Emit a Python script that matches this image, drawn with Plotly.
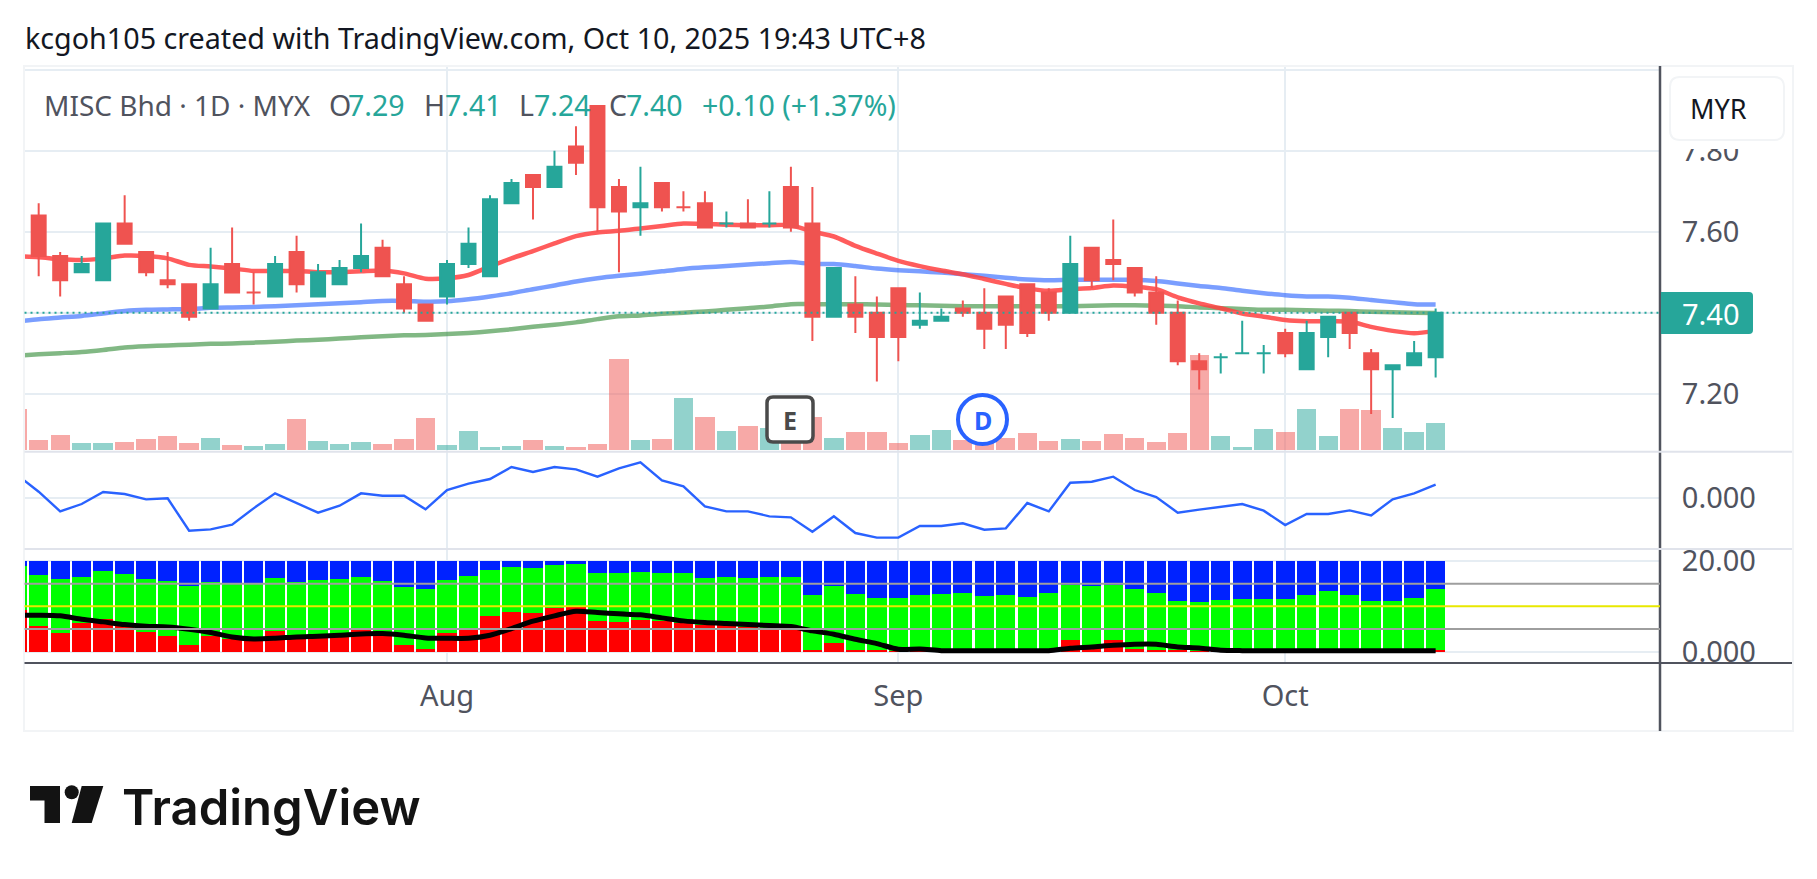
import plotly.graph_objects as go

W, H = 1817, 879
FONT = "Noto Sans"

# candle index 1..66, index 0 only has volume / line values (cut off by the left edge)
opens = [7.64,7.54,7.50,7.48,7.62,7.55,7.48,7.47,7.41,7.52,7.45,7.44,7.55,7.44,7.47,7.51,7.56,7.47,7.42,7.44,7.52,7.49,7.67,7.74,7.71,7.81,7.91,7.71,7.66,7.72,7.66,7.67,7.62,7.62,7.62,7.71,7.62,7.39,7.42,7.40,7.46,7.37,7.38,7.41,7.40,7.44,7.47,7.45,7.40,7.56,7.53,7.51,7.45,7.40,7.28,7.29,7.30,7.30,7.35,7.26,7.34,7.40,7.30,7.26,7.27,7.29]
highs = [7.67,7.55,7.54,7.62,7.69,7.55,7.55,7.47,7.56,7.61,7.50,7.54,7.59,7.52,7.53,7.62,7.58,7.49,7.42,7.53,7.61,7.69,7.73,7.74,7.80,7.86,7.91,7.73,7.76,7.72,7.70,7.70,7.65,7.68,7.70,7.76,7.71,7.51,7.49,7.44,7.46,7.45,7.41,7.43,7.46,7.44,7.47,7.46,7.59,7.56,7.63,7.51,7.49,7.43,7.30,7.30,7.38,7.32,7.36,7.38,7.39,7.40,7.31,7.27,7.33,7.41]
lows = [7.49,7.44,7.50,7.48,7.57,7.49,7.46,7.38,7.41,7.45,7.42,7.44,7.45,7.44,7.47,7.50,7.49,7.40,7.38,7.42,7.51,7.49,7.67,7.63,7.71,7.74,7.60,7.50,7.59,7.65,7.65,7.61,7.61,7.61,7.61,7.60,7.33,7.39,7.35,7.23,7.28,7.36,7.38,7.39,7.31,7.31,7.34,7.38,7.40,7.46,7.48,7.44,7.37,7.27,7.21,7.25,7.30,7.25,7.29,7.26,7.29,7.31,7.15,7.14,7.27,7.24]
closes = [7.54,7.48,7.52,7.62,7.57,7.50,7.47,7.39,7.47,7.45,7.45,7.52,7.47,7.50,7.51,7.54,7.49,7.41,7.38,7.52,7.57,7.68,7.72,7.71,7.76,7.77,7.66,7.65,7.67,7.66,7.66,7.61,7.62,7.61,7.62,7.61,7.39,7.51,7.39,7.34,7.34,7.38,7.39,7.40,7.36,7.37,7.35,7.40,7.52,7.48,7.52,7.45,7.40,7.28,7.26,7.29,7.30,7.30,7.30,7.35,7.39,7.35,7.26,7.27,7.30,7.40]

volume = [123,30,45,21,21,24,33,42,21,36,15,12,18,93,27,18,24,18,33,96,15,57,9,12,30,12,9,18,273,30,33,156,99,57,72,66,33,99,36,54,54,21,45,60,30,24,36,51,27,33,27,48,36,24,51,285,42,9,63,54,123,42,123,120,66,54,81]

ema_red = [7.539,7.537,7.532,7.530,7.534,7.541,7.540,7.534,7.518,7.514,7.509,7.503,7.503,7.503,7.500,7.500,7.502,7.504,7.497,7.484,7.485,7.493,7.514,7.534,7.552,7.571,7.589,7.598,7.602,7.608,7.614,7.620,7.619,7.617,7.616,7.616,7.616,7.600,7.588,7.565,7.546,7.528,7.515,7.504,7.495,7.483,7.471,7.460,7.454,7.458,7.461,7.467,7.464,7.458,7.438,7.423,7.411,7.398,7.390,7.382,7.379,7.379,7.378,7.365,7.355,7.349,7.355]
ema_blue = [7.378,7.384,7.388,7.392,7.398,7.404,7.407,7.408,7.409,7.412,7.413,7.414,7.416,7.418,7.421,7.423,7.426,7.429,7.429,7.427,7.428,7.433,7.440,7.448,7.458,7.467,7.477,7.485,7.491,7.496,7.502,7.508,7.512,7.515,7.519,7.522,7.525,7.520,7.520,7.515,7.509,7.505,7.502,7.499,7.495,7.491,7.486,7.482,7.480,7.481,7.481,7.481,7.481,7.478,7.472,7.466,7.461,7.454,7.448,7.443,7.440,7.440,7.437,7.431,7.426,7.421,7.420]
ema_green = [7.294,7.297,7.300,7.303,7.308,7.314,7.317,7.319,7.321,7.323,7.324,7.326,7.328,7.331,7.333,7.336,7.339,7.342,7.344,7.345,7.347,7.350,7.354,7.359,7.365,7.370,7.376,7.384,7.391,7.393,7.397,7.400,7.403,7.407,7.411,7.415,7.421,7.421,7.421,7.421,7.420,7.419,7.418,7.417,7.416,7.416,7.416,7.416,7.416,7.416,7.417,7.418,7.418,7.417,7.416,7.413,7.411,7.409,7.407,7.407,7.406,7.405,7.404,7.402,7.401,7.400,7.399]

oscillator = [0.069,0.019,-0.040,-0.018,0.018,0.012,-0.004,-0.001,-0.098,-0.094,-0.080,-0.031,0.014,-0.016,-0.044,-0.023,0.014,0.007,0.007,-0.034,0.024,0.043,0.057,0.093,0.078,0.093,0.086,0.064,0.089,0.107,0.053,0.035,-0.025,-0.040,-0.040,-0.055,-0.058,-0.101,-0.055,-0.105,-0.119,-0.119,-0.084,-0.084,-0.076,-0.095,-0.091,-0.015,-0.040,0.046,0.049,0.064,0.024,0.003,-0.044,-0.035,-0.027,-0.018,-0.038,-0.081,-0.048,-0.048,-0.037,-0.052,-0.004,0.014,0.040]

red_band = [9.15,5.60,4.06,6.35,7.16,5.83,4.28,3.47,1.40,3.47,2.88,2.51,4.50,3.62,3.62,3.99,4.72,4.28,1.40,0.52,4.06,4.94,7.90,8.78,8.49,9.67,9.82,6.72,6.49,6.94,6.72,6.35,5.83,5.83,5.46,5.09,5.09,0.30,1.85,0.30,0.30,0.15,0.15,0.07,0.07,0.07,0.07,0.07,0.15,2.51,1.40,2.51,0.52,0.30,0.30,0.15,0.07,0.07,0.07,0.07,0.07,0.07,0.07,0.07,0.07,0.07,0.30]
green_top = [18.89,16.90,16.01,16.46,17.79,17.12,16.01,15.57,14.46,15.35,14.91,14.91,16.24,15.35,15.79,16.01,16.46,15.57,14.24,13.80,15.79,16.68,18.01,18.67,18.45,19.11,19.34,17.34,17.34,17.56,17.34,17.34,16.24,16.46,16.24,16.46,16.46,12.47,14.46,12.69,11.81,11.81,12.47,12.69,12.92,12.25,12.47,12.03,12.92,14.69,14.46,14.69,13.80,12.92,11.14,10.92,11.37,11.59,11.59,11.59,12.47,13.36,12.47,11.14,11.14,11.81,13.80]
black_line = [8.04,8.04,7.90,7.16,6.57,5.98,5.61,5.46,4.94,4.21,3.25,2.80,2.95,3.25,3.40,3.62,3.91,3.99,3.62,3.03,2.95,2.95,3.62,5.09,6.72,7.90,8.93,8.63,8.34,8.12,7.45,6.79,6.42,6.20,5.98,5.76,5.54,4.58,3.84,2.73,1.77,0.52,0.59,0.22,0.22,0.22,0.22,0.22,0.22,0.74,1.03,1.40,1.62,1.62,1.03,0.81,0.30,0.22,0.22,0.22,0.22,0.22,0.22,0.22,0.22,0.22,0.22]

month_pos = [20, 41, 59]
month_labels = ["Aug", "Sep", "Oct"]

bars = list(range(67))
candles = bars[1:]

UP, DOWN = "#26a69a", "#ef5350"
GRID = "#e6edf3"
TEXT = "#50535e"


def px(x):
    return x / W


def py(y):
    return 1 - y / H


vol_colors = ["rgba(239,83,80,0.5)"] + [
    "rgba(38,166,154,0.5)" if c >= o else "rgba(239,83,80,0.5)" for o, c in zip(opens, closes)
]

fig = go.Figure()
fig.add_bar(x=bars, y=volume, marker_color=vol_colors, marker_line_width=0, yaxis="y", hoverinfo="skip")
for vals, col in [(ema_green, "rgba(56,142,60,0.63)"), (ema_blue, "rgba(41,98,255,0.62)"), (ema_red, "rgba(255,64,64,0.85)")]:
    fig.add_scatter(x=bars, y=vals, mode="lines", line=dict(color=col, width=4.5, shape="spline", smoothing=0.7),
                    yaxis="y2", hoverinfo="skip")
fig.add_candlestick(
    x=candles, open=opens, high=highs, low=lows, close=closes, yaxis="y3", whiskerwidth=0,
    increasing=dict(line=dict(color=UP, width=2), fillcolor=UP),
    decreasing=dict(line=dict(color=DOWN, width=2), fillcolor=DOWN),
    hoverinfo="skip",
)
fig.add_scatter(x=bars, y=oscillator, mode="lines", line=dict(color="#2962ff", width=2.4), yaxis="y4", hoverinfo="skip")
fig.add_bar(x=bars, y=red_band, marker_color="#ff0000", marker_line_width=0, yaxis="y5", hoverinfo="skip")
fig.add_bar(x=bars, y=[g - r for g, r in zip(green_top, red_band)], marker_color="#00ff00", marker_line_width=0, yaxis="y5", hoverinfo="skip")
fig.add_bar(x=bars, y=[20 - g for g in green_top], marker_color="#0022ff", marker_line_width=0, yaxis="y5", hoverinfo="skip")
fig.add_scatter(x=bars, y=black_line, mode="lines", line=dict(color="black", width=5, shape="spline", smoothing=0.7),
                yaxis="y5", hoverinfo="skip")

tick_font = dict(family=FONT, size=29, color=TEXT)
price_domain = [py(451.7), py(66)]
hidden = dict(visible=False, anchor="x", showgrid=False, zeroline=False)

fig.update_layout(
    width=W, height=H, margin=dict(l=0, r=0, t=0, b=0, autoexpand=False), autosize=False,
    paper_bgcolor="white", plot_bgcolor="white", showlegend=False,
    barmode="stack", bargap=0.1, boxgap=0.35, boxgroupgap=0,
    xaxis=dict(
        domain=[px(24.5), px(1660)], range=[0.34, 76.44], anchor="y5", rangeslider=dict(visible=False),
        tickvals=month_pos, ticktext=month_labels, tickfont=tick_font,
        showgrid=True, gridcolor=GRID, gridwidth=2, zeroline=False, showline=False,
        ticks="outside", ticklen=7, tickcolor="rgba(0,0,0,0)",
    ),
    yaxis=dict(domain=price_domain, range=[-5, 1152], **hidden),
    yaxis2=dict(range=[7.0567, 8.009], overlaying="y", **hidden),
    yaxis3=dict(
        range=[7.0567, 8.009], overlaying="y", anchor="x", side="right",
        tickvals=[7.2, 7.4, 7.6, 7.8, 8.0], ticktext=["7.20", "", "7.60", "7.80", ""],
        tickfont=tick_font, showgrid=True, gridcolor=GRID, gridwidth=2, zeroline=False,
        ticks="outside", ticklen=15, tickcolor="rgba(0,0,0,0)",
    ),
    yaxis4=dict(
        domain=[py(549), py(451.7)], range=[-0.153, 0.139], anchor="x", side="right",
        tickvals=[0], ticktext=["0.000"], tickfont=tick_font,
        showgrid=True, gridcolor=GRID, gridwidth=2, zeroline=False,
        ticks="outside", ticklen=15, tickcolor="rgba(0,0,0,0)",
    ),
    yaxis5=dict(
        domain=[py(663), py(549)], range=[-2.51, 22.66], anchor="x", side="right",
        tickvals=[0, 20], ticktext=["0.000", "20.00"], tickfont=tick_font,
        showgrid=True, gridcolor=GRID, gridwidth=2, zeroline=False,
        ticks="outside", ticklen=15, tickcolor="rgba(0,0,0,0)",
    ),
)


def hline(x0, x1, y, color, width):
    return dict(type="line", xref="paper", yref="paper", x0=px(x0), x1=px(x1), y0=py(y), y1=py(y),
                line=dict(color=color, width=width), layer="above")


def vline(x, y0, y1, color, width):
    return dict(type="line", xref="paper", yref="paper", x0=px(x), x1=px(x), y0=py(y0), y1=py(y1),
                line=dict(color=color, width=width), layer="above")


def level(y, color):
    return dict(type="line", xref="paper", yref="y5", x0=px(24.5), x1=px(1660), y0=y, y1=y,
                line=dict(color=color, width=2), layer="above")


def rounded(x0, y0, x1, y1, r):
    return (f"M{px(x0+r)},{py(y0)} L{px(x1-r)},{py(y0)} Q{px(x1)},{py(y0)} {px(x1)},{py(y0+r)} "
            f"L{px(x1)},{py(y1-r)} Q{px(x1)},{py(y1)} {px(x1-r)},{py(y1)} L{px(x0+r)},{py(y1)} "
            f"Q{px(x0)},{py(y1)} {px(x0)},{py(y1-r)} L{px(x0)},{py(y0+r)} Q{px(x0)},{py(y0)} {px(x0+r)},{py(y0)} Z")


def poly(points):
    return "M" + " L".join(f"{px(a)},{py(b)}" for a, b in points) + " Z"


shapes = [
    # frame and separators
    dict(type="rect", xref="paper", yref="paper", x0=px(24), x1=px(1793), y0=py(731), y1=py(66),
         line=dict(color="#f2f4f6", width=2), layer="above"),
    vline(1660, 66, 731, TEXT, 2.5),
    hline(24.5, 1792, 663, TEXT, 2),
    hline(24.5, 1792, 451.7, "#e0e3eb", 2),
    hline(24.5, 1792, 549, "#e0e3eb", 2),
    # indicator levels
    level(15, "#9e9e9e"), level(10, "#e8e800"), level(5, "#9e9e9e"),
    # last price line
    dict(type="line", xref="paper", yref="y3", x0=px(24.5), x1=px(1660), y0=closes[-1], y1=closes[-1],
         line=dict(color=UP, width=2, dash="2px,4px"), layer="above"),
    # last price label
    dict(type="path", xref="paper", yref="paper", layer="above", fillcolor=UP, line=dict(width=0),
         path=f"M{px(1661)},{py(292)} L{px(1749)},{py(292)} Q{px(1753)},{py(292)} {px(1753)},{py(296)} "
              f"L{px(1753)},{py(330)} Q{px(1753)},{py(334)} {px(1749)},{py(334)} L{px(1661)},{py(334)} Z"),
    # mask over the 7.80 label and currency button
    dict(type="rect", xref="paper", yref="paper", x0=px(1663), x1=px(1791), y0=py(149), y1=py(68),
         fillcolor="white", line=dict(width=0), layer="above"),
    dict(type="path", xref="paper", yref="paper", layer="above", fillcolor="white",
         line=dict(color="#f2f4f6", width=2), path=rounded(1670, 77, 1784, 140, 10)),
    # earnings and dividend markers
    dict(type="path", xref="paper", yref="paper", layer="above", fillcolor="white",
         line=dict(color="#4a4a4a", width=3.5), path=rounded(767, 397, 813, 442, 6)),
    dict(type="circle", xref="paper", yref="paper", layer="above", fillcolor="white",
         line=dict(color="#2962ff", width=4), x0=px(958), x1=px(1007), y0=py(444), y1=py(395)),
    # logo
    dict(type="path", xref="paper", yref="paper", layer="above", fillcolor="#131313", line=dict(width=0),
         path=poly([(30, 786), (60, 786), (60, 823), (44.5, 823), (44.5, 800.5), (30, 800.5)])),
    dict(type="circle", xref="paper", yref="paper", layer="above", fillcolor="#131313", line=dict(width=0),
         x0=px(64.7), x1=px(78.7), y0=py(799.3), y1=py(785.3)),
    dict(type="path", xref="paper", yref="paper", layer="above", fillcolor="#131313", line=dict(width=0),
         path=poly([(81.7, 786), (103.3, 786), (91.7, 823), (71.7, 823)])),
]
fig.update_layout(shapes=shapes)


def label(x, y, text, size=28.5, color=TEXT, anchor="left", **kw):
    font = dict(family=kw.pop("family", FONT), size=size, color=color, weight=kw.pop("weight", 400))
    fig.add_annotation(xref="paper", yref="paper", x=px(x), y=py(y), text=text, showarrow=False,
                       xanchor=anchor, yanchor="middle", font=font, borderpad=0, borderwidth=0)


label(25, 37, "kcgoh105 created with TradingView.com, Oct 10, 2025 19:43 UTC+8", size=28.7, color="#131722")
label(43.5, 105, "MISC Bhd · 1D · MYX", size=28)
label(329, 105, "O")
label(348, 105, "7.29", color=UP)
label(424, 105, "H")
label(445, 105, "7.41", color=UP)
label(519, 105, "L")
label(534, 105, "7.24", color=UP)
label(609, 105, "C")
label(626, 105, "7.40", color=UP)
label(702, 105, "+0.10 (+1.37%)", color=UP)
label(1682, 313, "7.40", size=29, color="white")
label(1690, 108, "MYR", size=27, color="#131722")
label(790, 420, "E", size=25, color="#4a4a4a", anchor="center", weight=700)
label(982.5, 420, "D", size=25, color="#2962ff", anchor="center", weight=700)
label(122, 807, "TradingView", size=49, color="#131313", family="Inter", weight=600)

fig.write_html("out.html", config=dict(displayModeBar=False),
               post_script="document.body.style.margin='0';")
